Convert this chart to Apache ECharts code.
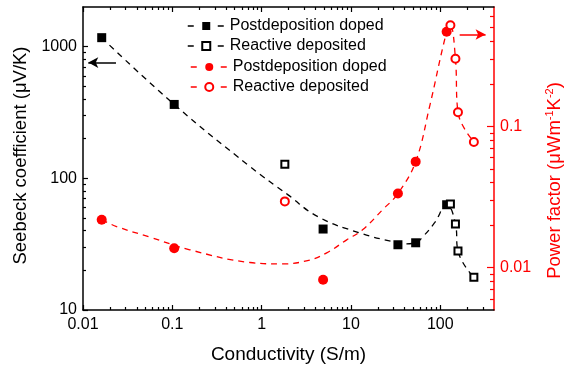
<!DOCTYPE html>
<html>
<head>
<meta charset="utf-8">
<script src="https://cdn.jsdelivr.net/npm/echarts@6/dist/echarts.min.js"></script>
<style>
html,body{margin:0;padding:0;background:#fff;}
#c{width:564px;height:374px;}
</style>
</head>
<body>
<div id="c"></div>
<script>
// ---- data ----
const postX = [0.0162, 0.105, 4.88, 33.6, 53.1, 118];
const postSeebeck = [1170, 364, 41.2, 31.3, 32.4, 63];
const postPF = [0.0218, 0.0137, 0.0082, 0.0334, 0.0562, 0.468];

const reactX = [1.82, 130, 148, 158, 238];
const reactSeebeck = [128, 63.9, 45, 28.1, 17.7];
const reactPF = [0.0294, 0.52, 0.301, 0.1256, 0.0775];

// dashed guide curves
const fitBlackX = [0.0162, 0.105, 0.74, 1.96, 4.3, 12.5, 29.4, 40, 53.1, 63.6, 86.5, 118, 148, 158, 238];
const fitBlackY = [1170, 364, 123, 75.2, 51, 38.5, 33, 31.8, 32.4, 35.9, 46, 63, 45, 28.1, 17.7];
const fitRedX = [0.0162, 0.0238, 0.0563, 0.157, 0.74, 1.73, 3.46, 5.36, 8.97, 13.5, 22.7, 33.6, 53.1, 76, 118, 130, 148, 158, 238];
const fitRedY = [0.0218, 0.0195, 0.0164, 0.01335, 0.01085, 0.0106, 0.0113, 0.0127, 0.0157, 0.0185, 0.0257, 0.0334, 0.0562, 0.138, 0.468, 0.52, 0.301, 0.1256, 0.0775];

// arrows (data coordinates)
const arrowBlack = {from: [0.0234, 757], to: [0.01146, 757]};
const arrowRed = {from: [165, 0.447], to: [322, 0.447]};

// ticks
const xMajor = [0.01, 0.1, 1, 10, 100];
const xMinor = [0.02,0.03,0.04,0.05,0.06,0.07,0.08,0.09,0.2,0.3,0.4,0.5,0.6,0.7,0.8,0.9,2,3,4,5,6,7,8,9,20,30,40,50,60,70,80,90,200,300];
const leftMajor = [10, 100, 1000];
const leftMinor = [20,30,40,50,60,70,80,90,200,300,400,500,600,700,800,900];
const rightMajor = [0.01, 0.1];
const rightMinor = [0.006,0.007,0.008,0.009,0.02,0.03,0.04,0.05,0.06,0.07,0.08,0.09,0.2,0.3,0.4,0.5,0.6];

const xRange = [0.01, 400];
const leftRange = [10, 2000];
const rightRange = [0.005, 0.7];

const names = {
  postS: 'Postdeposition doped',
  reactS: 'Reactive deposited',
  postP: 'Postdeposition doped ',
  reactP: 'Reactive deposited '
};

// ---- chart ----
const zip = (a, b) => a.map((v, i) => [v, b[i]]);
const FONT = 'Liberation Sans, Arial, sans-serif';
const RED = '#ff0000';
const fmt = v => String(+(+v).toPrecision(6));
const gridRect = {left: 83, right: 70, top: 7, bottom: 64, containLabel: false, outerBoundsMode: 'none'};

function xAx(grid, pos, ticks, len, opts) {
  return Object.assign({
    type: 'log', logBase: 10, gridIndex: grid, position: pos,
    min: xRange[0], max: xRange[1],
    axisLine: {show: false},
    axisTick: {show: true, inside: true, length: len, customValues: ticks, lineStyle: {color: '#000', width: 1.2}},
    axisLabel: {show: false},
    splitLine: {show: false}, minorTick: {show: false}, minorSplitLine: {show: false}
  }, opts || {});
}
function yAx(grid, pos, range, ticks, len, color, opts) {
  return Object.assign({
    type: 'log', logBase: 10, gridIndex: grid, position: pos,
    min: range[0], max: range[1],
    axisLine: {show: false},
    axisTick: {show: true, inside: true, length: len, customValues: ticks, lineStyle: {color: color, width: 1.2}},
    axisLabel: {show: false},
    splitLine: {show: false}, minorTick: {show: false}, minorSplitLine: {show: false}
  }, opts || {});
}

const legendText = {
  color: '#000', fontSize: 16, fontFamily: FONT,
  rich: {t: {color: '#000', fontSize: 16, fontFamily: FONT}}
};

const option = {
  animation: false,
  backgroundColor: '#fff',
  textStyle: {fontFamily: FONT},
  grid: [Object.assign({}, gridRect), Object.assign({}, gridRect)],
  xAxis: [
    xAx(0, 'bottom', xMajor, 5, {
      axisLine: {show: true, onZero: false, lineStyle: {color: '#000', width: 1.5}},
      axisLabel: {show: true, customValues: xMajor, formatter: fmt, color: '#000', fontSize: 16, fontFamily: FONT, margin: 7},
      name: 'Conductivity (S/m)', nameLocation: 'middle', nameGap: 35,
      nameTextStyle: {color: '#000', fontSize: 19, fontFamily: FONT}
    }),
    xAx(0, 'top', xMajor, 5, {
      axisLine: {show: true, onZero: false, lineStyle: {color: '#000', width: 1.5}}
    }),
    xAx(1, 'bottom', xMinor, 3),
    xAx(1, 'top', xMinor, 3)
  ],
  yAxis: [
    yAx(0, 'left', leftRange, leftMajor, 5, '#000', {
      axisLine: {show: true, onZero: false, lineStyle: {color: '#000', width: 1.5}},
      axisLabel: {show: true, customValues: leftMajor, formatter: fmt, color: '#000', fontSize: 16, fontFamily: FONT, margin: 6},
      name: 'Seebeck coefficient (μV/K)', nameLocation: 'middle', nameGap: 52, nameRotate: 90,
      nameTextStyle: {color: '#000', fontSize: 18.5, fontFamily: FONT, padding: [0, 0, 0, 6]}
    }),
    yAx(0, 'right', rightRange, rightMajor, 7, RED, {
      axisLine: {show: true, onZero: false, lineStyle: {color: RED, width: 1.5}},
      axisLabel: {show: true, customValues: rightMajor, formatter: fmt, color: RED, fontSize: 16, fontFamily: FONT, margin: 6},
      name: '{a|Power factor (μWm}{s|-1}{a|K}{s|-2}{a|)}', nameLocation: 'middle', nameGap: 50, nameRotate: 90,
      nameTextStyle: {
        color: RED, fontSize: 18.5, fontFamily: FONT, padding: [0, 44, 0, 0],
        rich: {
          a: {color: RED, fontSize: 18.5, fontFamily: FONT, lineHeight: 22},
          s: {color: RED, fontSize: 11, fontFamily: FONT, lineHeight: 11, verticalAlign: 'top'}
        }
      }
    }),
    yAx(1, 'left', leftRange, leftMinor, 3, '#000'),
    yAx(1, 'right', rightRange, rightMinor, 4, RED)
  ],
  legend: [
    {
      orient: 'vertical', left: 187, top: 18, padding: 0, itemGap: 4, itemWidth: 37, itemHeight: 10,
      selectedMode: false, formatter: n => '{t|' + n.trim() + '}',
      textStyle: legendText,
      lineStyle: {width: 1.5, type: [6, 24], opacity: 1},
      data: [names.postS, names.reactS]
    },
    {
      orient: 'vertical', left: 190, top: 59, padding: 0, itemGap: 4, itemWidth: 37, itemHeight: 10,
      selectedMode: false, formatter: n => '{t|' + n.trim() + '}',
      textStyle: legendText,
      lineStyle: {width: 1.5, type: [6, 24], opacity: 1},
      data: [names.postP, names.reactP]
    }
  ],
  series: [
    {
      name: 'fitBlack', type: 'line', xAxisIndex: 0, yAxisIndex: 0,
      data: zip(fitBlackX, fitBlackY), smooth: 0.45, showSymbol: false, symbol: 'none',
      lineStyle: {color: '#000', width: 1.3, type: [6, 5]}, z: 1,
      markLine: {
        silent: true, symbol: ['none', 'arrow'], symbolSize: [8, 10],
        label: {show: false},
        lineStyle: {color: '#000', width: 1.5, type: 'solid'},
        data: [[{coord: arrowBlack.from}, {coord: arrowBlack.to}]]
      }
    },
    {
      name: 'fitRed', type: 'line', xAxisIndex: 0, yAxisIndex: 1,
      data: zip(fitRedX, fitRedY), smooth: 0.4, showSymbol: false, symbol: 'none',
      lineStyle: {color: RED, width: 1.3, type: [6, 5]}, z: 1,
      markLine: {
        silent: true, symbol: ['none', 'arrow'], symbolSize: [8, 10],
        label: {show: false},
        lineStyle: {color: RED, width: 1.5, type: 'solid'},
        data: [[{coord: arrowRed.from}, {coord: arrowRed.to}]]
      }
    },
    {
      name: names.postS, type: 'line', xAxisIndex: 0, yAxisIndex: 0,
      data: zip(postX, postSeebeck), symbol: 'rect', symbolSize: 9, showSymbol: true,
      itemStyle: {color: '#000'}, lineStyle: {color: '#000', width: 1.5, opacity: 0}, z: 3
    },
    {
      name: names.reactS, type: 'line', xAxisIndex: 0, yAxisIndex: 0,
      data: zip(reactX, reactSeebeck), symbol: 'rect', symbolSize: 7, showSymbol: true,
      itemStyle: {color: '#fff', borderColor: '#000', borderWidth: 2}, lineStyle: {color: '#000', width: 1.5, opacity: 0}, z: 4
    },
    {
      name: names.postP, type: 'line', xAxisIndex: 0, yAxisIndex: 1,
      data: zip(postX, postPF), symbol: 'circle', symbolSize: 10, showSymbol: true,
      itemStyle: {color: RED}, lineStyle: {color: RED, width: 1.5, opacity: 0}, z: 3
    },
    {
      name: names.reactP, type: 'line', xAxisIndex: 0, yAxisIndex: 1,
      data: zip(reactX, reactPF), symbol: 'circle', symbolSize: 8, showSymbol: true,
      itemStyle: {color: '#fff', borderColor: RED, borderWidth: 2}, lineStyle: {color: RED, width: 1.5, opacity: 0}, z: 4
    }
  ]
};

const chart = echarts.init(document.getElementById('c'), null, {renderer: 'canvas'});
chart.setOption(option);
</script>
</body>
</html>
